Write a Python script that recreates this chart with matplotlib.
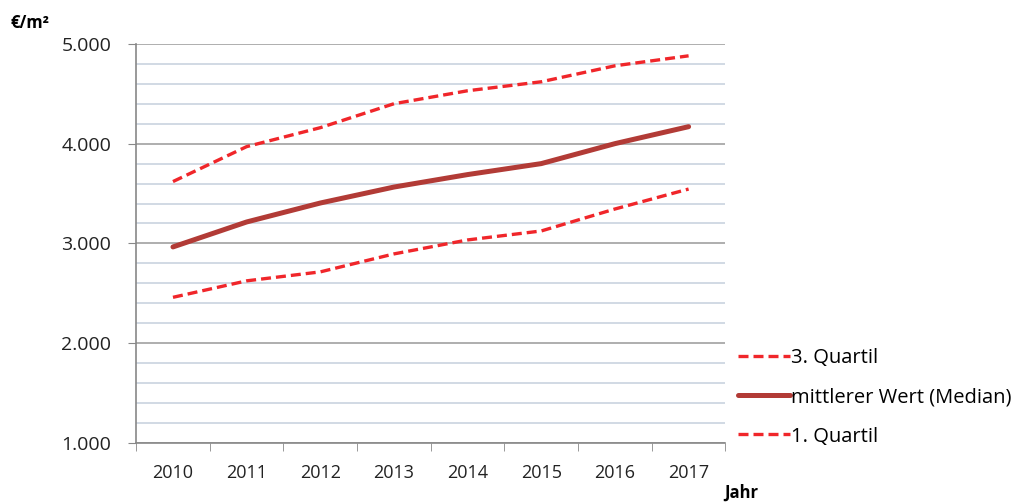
import matplotlib
matplotlib.use("Agg")
import matplotlib.pyplot as plt
from matplotlib.ticker import FixedLocator, FuncFormatter, MultipleLocator

years = ["2010", "2011", "2012", "2013", "2014", "2015", "2016", "2017"]
quartil3 = [3620, 3970, 4160, 4400, 4530, 4620, 4780, 4880]
median = [2965, 3215, 3405, 3565, 3690, 3800, 4000, 4170]
quartil1 = [2460, 2625, 2715, 2895, 3035, 3125, 3345, 3545]

plt.rcParams["font.family"] = ["Open Sans", "DejaVu Sans"]

fig = plt.figure(figsize=(10.16, 5.04), dpi=100)
ax = fig.add_axes([0.134, 0.121, 0.580, 0.792])

x = list(range(len(years)))
red = "#f0262a"
dark = "#b23b36"

l3, = ax.plot(x, quartil3, color=red, lw=2.4, ls=(0, (3, 1.5)), label="3. Quartil")
lm, = ax.plot(x, median, color=dark, lw=3.6, solid_capstyle="round", label="mittlerer Wert (Median)")
l1, = ax.plot(x, quartil1, color=red, lw=2.4, ls=(0, (3, 1.5)), label="1. Quartil")

ax.set_xlim(-0.5, len(years) - 0.5)
ax.set_ylim(1000, 5000)

# grid: light every 200, darker every 1000
ax.yaxis.set_major_locator(MultipleLocator(1000))
ax.yaxis.set_minor_locator(MultipleLocator(200))
ax.grid(axis="y", which="minor", color="#c9d3df", lw=1.2)
ax.grid(axis="y", which="major", color="#a8a8a8", lw=1.3)
ax.set_axisbelow(True)
ax.yaxis.set_major_formatter(FuncFormatter(lambda v, p: f"{int(v):,}".replace(",", ".")))
ax.tick_params(axis="y", which="major", length=6, color="#888888", labelsize=14, labelcolor="#222222", pad=12)
ax.tick_params(axis="y", which="minor", length=0)

ax.set_xticks(x)
ax.set_xticklabels(years)
ax.xaxis.set_minor_locator(FixedLocator([i - 0.5 for i in range(len(years) + 1)]))
ax.tick_params(axis="x", which="major", length=0, labelsize=13, labelcolor="#222222", pad=15)
ax.tick_params(axis="x", which="minor", length=6, color="#888888")

for s in ["top", "right"]:
    ax.spines[s].set_visible(False)
for s in ["left", "bottom"]:
    ax.spines[s].set_color("#888888")
    ax.spines[s].set_linewidth(1.2)

fig.text(0.010, 0.955, "€/m²", fontsize=12, fontweight="bold", ha="left", va="center")
fig.text(0.713, 0.022, "Jahr", fontsize=12, fontweight="bold", ha="left", va="center")

leg = fig.legend(handles=[l3, lm, l1], loc="upper left", bbox_to_anchor=(0.718, 0.325),
                 frameon=False, fontsize=14.5, handlelength=2.6, handletextpad=0.05,
                 labelspacing=0.95, borderaxespad=0)

fig.savefig("out.png", dpi=100)
